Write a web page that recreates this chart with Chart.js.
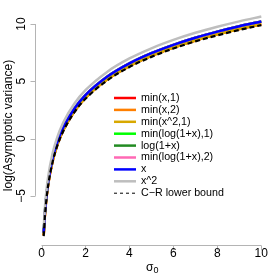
<!DOCTYPE html>
<html>
<head>
<meta charset="utf-8">
<script src="https://cdn.jsdelivr.net/npm/chart.js@4/dist/chart.umd.min.js"></script>
<style>
  html, body { margin:0; padding:0; background:#fff; }
</style>
</head>
<body>
<canvas id="c" width="280" height="280"></canvas>
<script>
// ── data ──
const sigma = [0.1, 0.15, 0.2, 0.3, 0.5, 0.7, 1, 1.5, 2, 3, 4, 5, 6, 7, 8, 9, 10];

const minX1      = [-8.44,-6.82,-5.66,-4.04,-2.00,-0.65,0.77,2.39,3.55,5.17,6.32,7.21,7.94,8.56,9.09,9.56,9.98];
const minX2      = [-8.44,-6.82,-5.66,-4.04,-2.00,-0.65,0.77,2.39,3.55,5.17,6.32,7.21,7.94,8.56,9.09,9.56,9.98];
const minX2sq1   = [-8.44,-6.82,-5.66,-4.04,-2.00,-0.65,0.77,2.39,3.55,5.17,6.32,7.21,7.94,8.56,9.09,9.56,9.98];
const minLog1    = [-8.20,-6.58,-5.42,-3.80,-1.76,-0.41,1.01,2.63,3.79,5.41,6.56,7.45,8.18,8.80,9.33,9.80,10.22];
const log1px     = [-8.20,-6.58,-5.42,-3.80,-1.76,-0.41,1.01,2.63,3.79,5.41,6.56,7.45,8.18,8.80,9.33,9.80,10.22];
const minLog2    = [-8.20,-6.58,-5.42,-3.80,-1.76,-0.41,1.01,2.63,3.79,5.41,6.56,7.45,8.18,8.80,9.33,9.80,10.22];
const xRho       = [-8.20,-6.58,-5.42,-3.80,-1.76,-0.41,1.01,2.63,3.79,5.41,6.56,7.45,8.18,8.80,9.33,9.80,10.22];
const x2Rho      = [-7.77,-6.15,-4.99,-3.37,-1.33,0.02,1.44,3.06,4.22,5.84,6.99,7.88,8.61,9.23,9.76,10.23,10.65];
const crBound    = [-8.52,-6.90,-5.74,-4.12,-2.08,-0.73,0.69,2.31,3.47,5.09,6.24,7.13,7.86,8.48,9.01,9.48,9.90];

const xTicks = [0, 2, 4, 6, 8, 10];
const yTicks = [-5, 0, 5, 10];

const FONT = "'Liberation Sans', Arial, sans-serif";
const AXIS_GREY = '#b4b4b4';

function pts(ys) { return sigma.map((s, i) => ({x: s, y: ys[i]})); }

function ds(label, ys, color, i, extra = {}) {
    return {label, data: pts(ys), borderColor: color, backgroundColor: color,
        borderWidth: 2.5, pointRadius: 0, cubicInterpolationMode: 'monotone',
        fill: false, order: 8 - i, ...extra};
}

// ── R-style axes + legend, drawn from the chart's scales ──
const rStyle = {
    id: 'rStyle',
    afterDraw(chart) {
        const ctx = chart.ctx, xs = chart.scales.x, ys = chart.scales.y, a = chart.chartArea;
        ctx.save();
        ctx.strokeStyle = AXIS_GREY; ctx.lineWidth = 1;

        // x axis
        const yb = Math.round(a.bottom) + 0.5;
        ctx.beginPath();
        ctx.moveTo(xs.getPixelForValue(xTicks[0]), yb);
        ctx.lineTo(xs.getPixelForValue(xTicks[xTicks.length - 1]), yb);
        xTicks.forEach(v => { const p = Math.round(xs.getPixelForValue(v)) + 0.5; ctx.moveTo(p, yb); ctx.lineTo(p, yb + 5); });
        // y axis
        const xl = Math.round(a.left) + 0.5;
        ctx.moveTo(xl, ys.getPixelForValue(yTicks[0]));
        ctx.lineTo(xl, ys.getPixelForValue(yTicks[yTicks.length - 1]));
        yTicks.forEach(v => { const p = Math.round(ys.getPixelForValue(v)) + 0.5; ctx.moveTo(xl, p); ctx.lineTo(xl - 5, p); });
        ctx.stroke();

        // tick labels
        ctx.fillStyle = '#000';
        ctx.font = '12px ' + FONT;
        ctx.textAlign = 'center'; ctx.textBaseline = 'middle';
        xTicks.forEach(v => ctx.fillText(String(v), xs.getPixelForValue(v), 254));
        yTicks.forEach(v => {
            ctx.save();
            ctx.translate(21.5, ys.getPixelForValue(v));
            ctx.rotate(-Math.PI / 2);
            ctx.fillText(v < 0 ? '\u2212' + Math.abs(v) : String(v), 0, 0);
            ctx.restore();
        });

        // axis titles
        ctx.save();
        ctx.translate(9, (a.top + a.bottom) / 2);
        ctx.rotate(-Math.PI / 2);
        ctx.fillText('log(Asymptotic variance)', 0, 0);
        ctx.restore();
        const cx = (a.left + a.right) / 2;
        ctx.textAlign = 'right';
        ctx.fillText('\u03C3', cx + 1, 268);
        ctx.textAlign = 'left';
        ctx.font = '9px ' + FONT;
        ctx.fillText('0', cx + 1, 271);

        // legend
        ctx.font = '10.7px ' + FONT;
        chart.data.datasets.forEach((d, i) => {
            const y = 98 + i * 11.9;
            ctx.beginPath();
            ctx.strokeStyle = d.borderColor;
            if (d.borderDash) { ctx.setLineDash([3, 3]); ctx.lineWidth = 1; }
            else { ctx.setLineDash([]); ctx.lineWidth = 2.5; }
            ctx.moveTo(114, y); ctx.lineTo(136, y);
            ctx.stroke();
            ctx.setLineDash([]);
            ctx.fillStyle = '#000';
            ctx.textAlign = 'left';
            ctx.fillText(d.label, 141, y);
        });
        ctx.restore();
    }
};

new Chart(document.getElementById('c'), {
    type: 'line',
    data: {datasets: [
        ds('min(x,1)', minX1, '#ff0000', 0),
        ds('min(x,2)', minX2, '#ff7f00', 1),
        ds('min(x^2,1)', minX2sq1, '#d8a800', 2),
        ds('min(log(1+x),1)', minLog1, '#00ff00', 3),
        ds('log(1+x)', log1px, '#228b22', 4),
        ds('min(log(1+x),2)', minLog2, '#ff69b4', 5),
        ds('x', xRho, '#0000ff', 6),
        ds('x^2', x2Rho, '#bebebe', 7),
        ds('C\u2212R lower bound', crBound, '#000000', 8, {borderWidth: 2.2, borderDash: [5, 3]})
    ]},
    plugins: [rStyle],
    options: {
        responsive: false, animation: false,
        layout: {padding: {left: 35, right: 10, top: 6, bottom: 35}},
        plugins: {legend: {display: false}, tooltip: {enabled: false}},
        scales: {
            x: {type: 'linear', display: false, min: -0.296, max: 10.396},
            y: {type: 'linear', display: false, min: -9.29, max: 11.57}
        }
    }
});
</script>
</body>
</html>
